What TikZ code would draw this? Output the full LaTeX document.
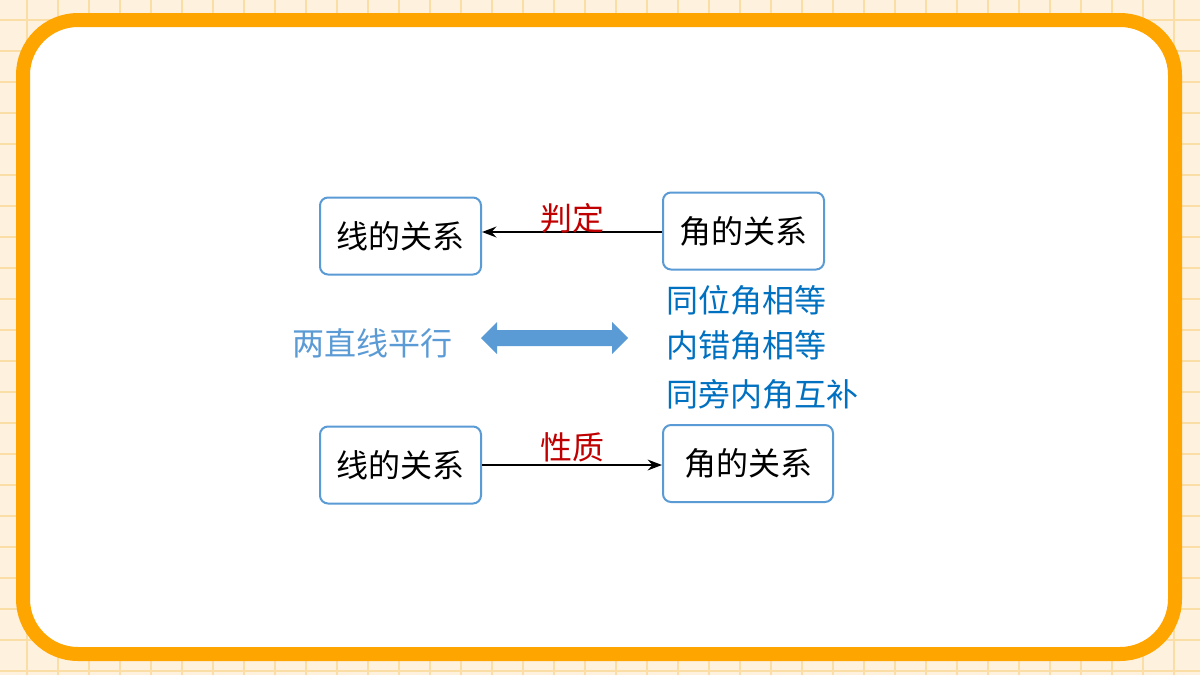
\documentclass[tikz,border=0pt]{standalone}
\usepackage{fontspec}
\setmainfont{Noto Sans CJK SC}
\usetikzlibrary{arrows.meta,positioning,calc}
\definecolor{gridbg}{HTML}{FEF1DE}
\definecolor{gridline}{HTML}{FBDDA6}
\definecolor{frameorange}{HTML}{FFA500}
\definecolor{boxblue}{HTML}{5B9BD5}
\definecolor{textblue}{HTML}{0070C0}
\definecolor{labelred}{HTML}{C00000}
\begin{document}
\begin{tikzpicture}[x=1pt,y=-1pt,>=Stealth,
                    relbox/.style={draw=boxblue,line width=2pt,rounded corners=8pt,
                      minimum width=161pt,minimum height=77pt,font=\fontsize{32}{36}\selectfont},
                    rellabel/.style={text=labelred,font=\fontsize{32}{36}\selectfont},
                    anglefact/.style={text=textblue,font=\fontsize{32}{36}\selectfont,anchor=west}]
  \useasboundingbox (0,0) rectangle (1200,675);
  \fill[gridbg] (0,0) rectangle (1200,675);
  \foreach \gx in {27,58,...,1200} \draw[gridline,line width=1.2pt] (\gx,0) -- (\gx,675);
  \foreach \gy in {20,51,...,675} \draw[gridline,line width=1.2pt] (0,\gy) -- (1200,\gy);
  \draw[frameorange,fill=white,line width=14pt,rounded corners=55pt] (23,20) rectangle (1175,654);

  \node[relbox] (L1) at (400.5,236) {线的关系};
  \node[relbox] (A1) at (743.5,231) {角的关系};
  \node[relbox] (L2) at (400.5,465) {线的关系};
  \node[relbox,minimum width=170pt] (A2) at (748,463.5) {角的关系};

  \draw[->,line width=2.5pt] (A1.west |- 0,232) -- (L1.east |- 0,232) node[rellabel,midway,above=-6pt] {判定};
  \draw[->,line width=2.5pt] (L2.east |- 0,465) -- (A2.west |- 0,465) node[rellabel,midway,above=-2pt] {性质};

  \node[text=boxblue,font=\fontsize{32}{36}\selectfont] (par) at (372,343) {两直线平行};
  \coordinate (dl) at (481,338);
  \coordinate (dr) at (628,338);
  \fill[boxblue] (dl) -- ++(16,-16) -- ++(0,8) -- ($(dr)+(-16,-8)$) -- ++(0,-8) -- (dr)
    -- ++(-16,16) -- ++(0,-8) -- ($(dl)+(16,8)$) -- ++(0,8) -- cycle;

  \node[anglefact] (f1) at (663,300) {同位角相等};
  \node[anglefact] (f2) at (663,345) {内错角相等};
  \node[anglefact] (f3) at (663,394) {同旁内角互补};
\end{tikzpicture}
\end{document}
